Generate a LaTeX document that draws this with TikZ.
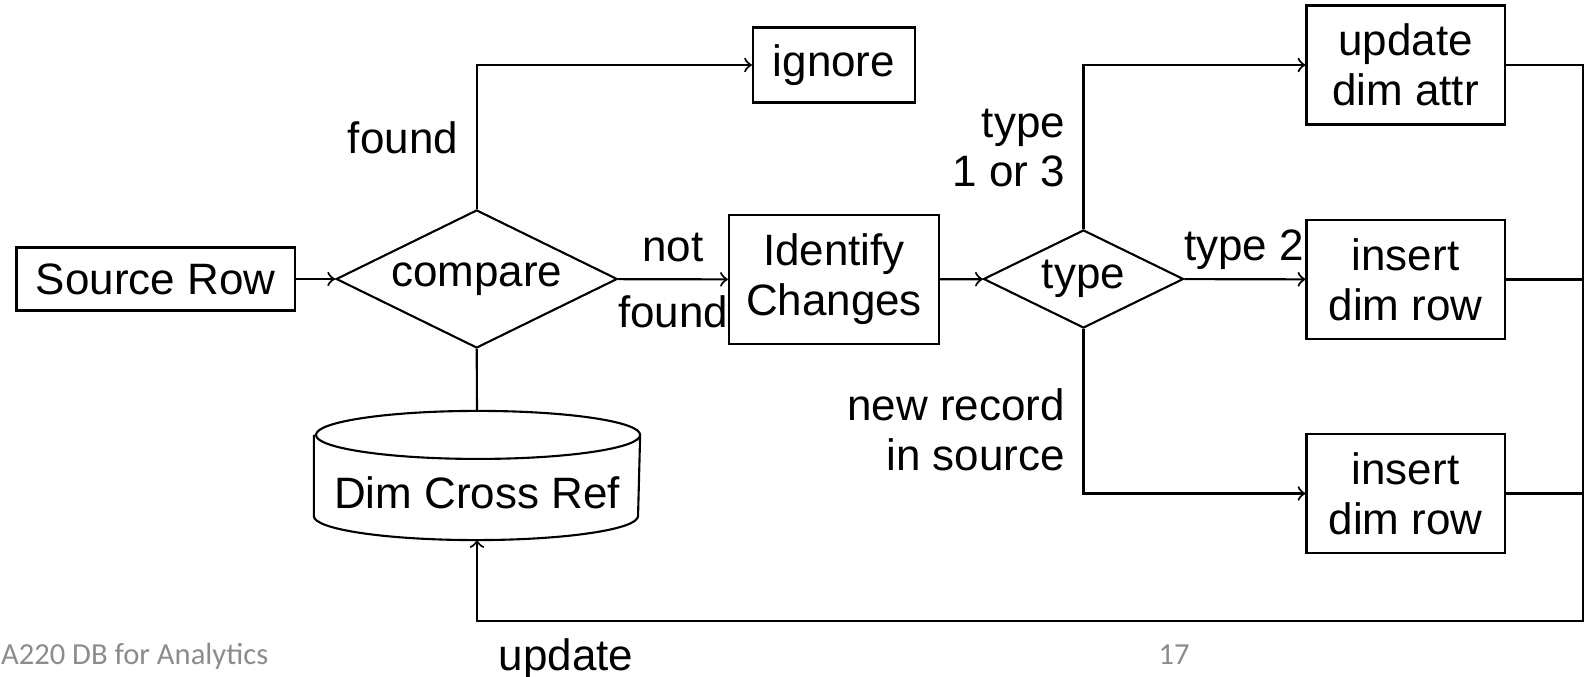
\documentclass[tikz,border=0pt]{standalone}
\usepackage{fontspec}
\setmainfont{Liberation Sans}
\newfontfamily\footfont{Carlito}
\usetikzlibrary{shapes.geometric}
\begin{document}
\begin{tikzpicture}[x=0.01cm,y=-0.01cm,line width=0.6pt,txt/.style={font=\fontsize{12.5}{14.2}\selectfont,align=center,inner sep=0},box/.style={txt,draw,rectangle},dec/.style={txt,draw,diamond,aspect=2},lbl/.style={txt},foot/.style={font=\footfont\fontsize{8.7}{10}\selectfont,text=black!45,inner sep=0}]
\useasboundingbox (0,0) rectangle (1594,677);
\def\rx{1.62cm};
\def\ry{0.24cm};

\node[box,minimum width=2.78cm,minimum height=0.63cm] (src) at (155.6,279) {Source Row};
\node[dec,minimum width=2.81cm,minimum height=1.38cm] (cmp) at (476.7,279) {compare};
\node[box,minimum width=1.62cm,minimum height=0.75cm] (ign) at (834,65) {ignore};
\node[box,minimum width=2.10cm,minimum height=1.29cm] (idc) at (834,279.5) {Identify\\Changes};
\node[dec,minimum width=2.00cm,minimum height=0.98cm] (typ) at (1083.5,279) {type};

\node[box,minimum width=1.98cm,minimum height=1.19cm] (upd) at (1405.5,65) {update\\dim attr};
\node[box,minimum width=1.98cm,minimum height=1.19cm] (ins1) at (1405.5,279.5) {insert\\dim row};
\node[box,minimum width=1.98cm,minimum height=1.19cm] (ins2) at (1405.5,493.5) {insert\\dim row};

% cross reference table
\node[txt,minimum width=3.24cm,minimum height=1.27cm] (db) at (477,475.5) {};
\draw ([yshift=-\ry]db.north west) -- ([yshift=\ry]db.south west) arc[start angle=180,end angle=360,x radius=\rx,y radius=\ry] -- ([yshift=-\ry]db.north east) arc[start angle=0,end angle=180,x radius=\rx,y radius=\ry] arc[start angle=180,end angle=360,x radius=\rx,y radius=\ry];
\node[lbl] (dbt) at (477,493) {Dim Cross Ref};

% labels
\node[lbl,anchor=base east] (lfound) at (459,154) {found};
\node[lbl,anchor=base] (lnot) at (673,262) {not};
\node[lbl,anchor=base] (lnfound) at (673,328) {found};
\node[lbl,anchor=east,align=right] (lt13) at (1066,148) {type\\1 or 3};
\node[lbl,anchor=base west] (lt2) at (1183,261) {type 2};
\node[lbl,anchor=east,align=right] (lnew) at (1066,430) {new record\\in source};
\node[lbl,anchor=base] (lupd) at (566,671) {update};

\node[foot,anchor=base west] (ftitle) at (0,665) {A220 DB for Analytics};
\node[foot,anchor=base] (fpage) at (1174,665) {17};

\coordinate (rt) at (1583,65);
\coordinate (rb) at (1583,621);

\draw[->] (src) -- (cmp);
\draw[->] (cmp.north) |- (ign);
\draw[->] (cmp) -- (idc);
\draw (cmp.south) -- (db.north);
\draw[->] (idc) -- (typ);
\draw[->] (typ.north) |- (upd);
\draw[->] (typ) -- (ins1);
\draw[->] (typ.south) |- (ins2);
\draw (ins1) -- (ins1 -| rb);
\draw (ins2) -- (ins2 -| rb);
\draw[->] (upd) -- (rt) -- (rb) -| (db.south);
\end{tikzpicture}
\end{document}
